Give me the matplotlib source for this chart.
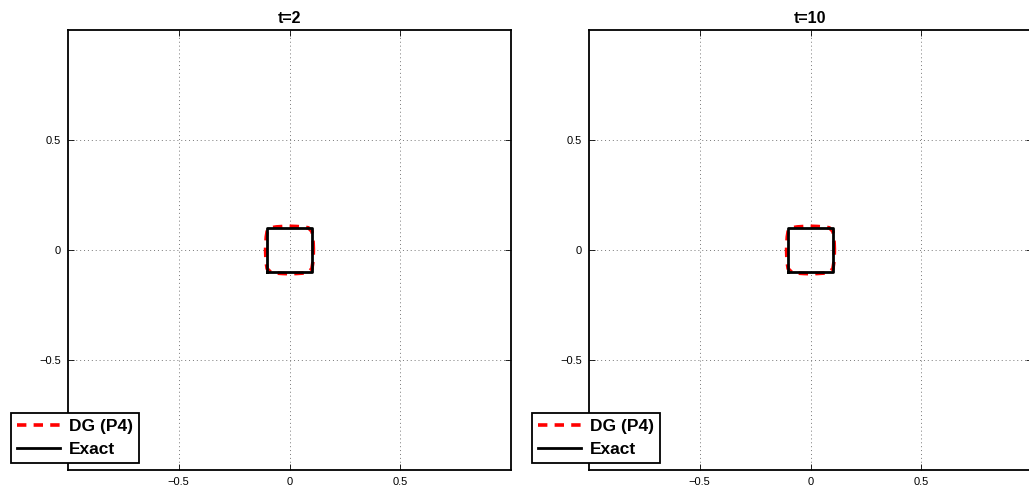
import numpy as np
import matplotlib.pyplot as plt

# ── DATA ────────────────────────────────────────────────────
titles = ["t=2", "t=10"]
tick_vals = [-0.5, 0, 0.5]
tick_labels = ["\u22120.5", "0", "0.5"]

# exact solution: square of side 0.2 centred at the origin
exact_x = [-0.1, 0.1, 0.1, -0.1, -0.1]
exact_y = [-0.1, -0.1, 0.1, 0.1, -0.1]

# DG (P4) contour (slightly rounded square)
dg_x = [0.108, 0.107, 0.105, 0.101, 0.093, 0.085, 0.060, 0.030, 0.000,
        -0.030, -0.060, -0.085, -0.093, -0.101, -0.105, -0.107, -0.108,
        -0.107, -0.105, -0.101, -0.093, -0.085, -0.060, -0.030, 0.000,
        0.030, 0.060, 0.085, 0.093, 0.101, 0.105, 0.107, 0.108]
dg_y = [0.000, 0.030, 0.060, 0.085, 0.093, 0.101, 0.105, 0.107, 0.108,
        0.107, 0.105, 0.101, 0.093, 0.085, 0.060, 0.030, 0.000,
        -0.030, -0.060, -0.085, -0.093, -0.101, -0.105, -0.107, -0.108,
        -0.107, -0.105, -0.101, -0.093, -0.085, -0.060, -0.030, 0.000]

# ── FIGURE ──────────────────────────────────────────────────
plt.rcParams['font.family'] = ['Liberation Sans', 'DejaVu Sans']

fig = plt.figure(figsize=(10.29, 4.94), dpi=100)
W, H = 1029, 494
ax_lefts = [68, 589]
ax_w, ax_top, ax_bot = 443, 30, 470

for i, title in enumerate(titles):
    left = ax_lefts[i]
    ax = fig.add_axes([left / W, (H - ax_bot) / H, ax_w / W, (ax_bot - ax_top) / H])

    ax.plot(dg_x, dg_y, color="red", ls=(0, (2.6, 2.0)), lw=2.6, label="DG (P4)")
    ax.plot(exact_x, exact_y, color="black", lw=2.0, label="Exact")

    ax.set_xlim(-1, 1)
    ax.set_ylim(-1, 1)
    ax.set_xticks(tick_vals)
    ax.set_xticklabels(tick_labels)
    ax.set_yticks(tick_vals)
    ax.set_yticklabels(tick_labels)
    ax.tick_params(direction="in", length=4, width=0.6, labelsize=8,
                   top=True, right=True, pad=5)
    ax.grid(True, ls=(0, (1, 3)), color="#777777", lw=0.7)
    for sp in ax.spines.values():
        sp.set_linewidth(1.3)
        sp.set_color("black")
    ax.set_title(title, fontsize=11.5, fontweight="bold", pad=5)

    leg = ax.legend(loc="lower left",
                    bbox_to_anchor=((left - 57) / W, (H - 463) / H),
                    bbox_transform=fig.transFigure, borderaxespad=0,
                    fancybox=False, framealpha=1, edgecolor="black",
                    prop={"weight": "bold", "size": 12.5},
                    handlelength=2.5, handletextpad=0.5, borderpad=0.35,
                    labelspacing=0.45)
    leg.get_frame().set_linewidth(1.3)

fig.savefig("out.png", dpi=100)
